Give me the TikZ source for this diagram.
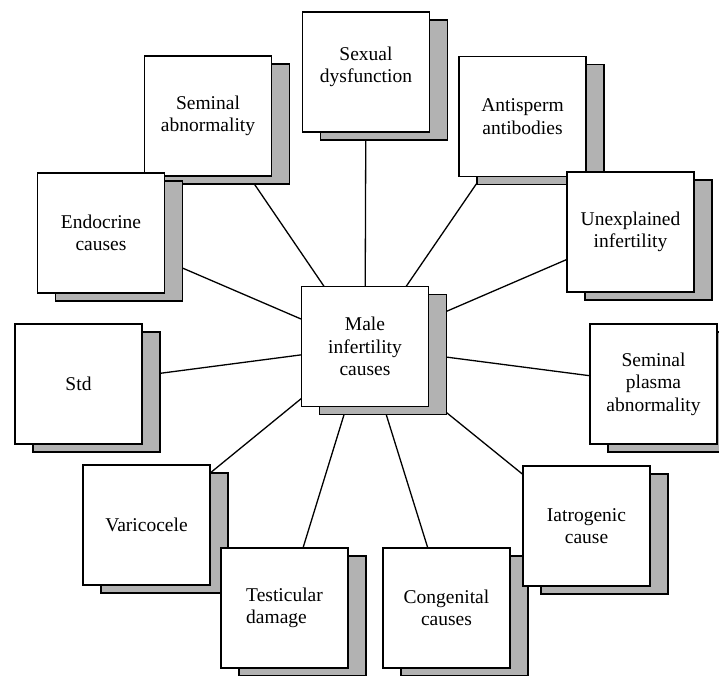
\documentclass[tikz,border=0pt]{standalone}
\usepackage{fontspec}
\setmainfont{Liberation Serif}
\usetikzlibrary{shadows,backgrounds}

\begin{document}
\begin{tikzpicture}[x=1pt, y=-1pt,
    laatikko/.style={draw=black, fill=white, line width=1.6pt,
      minimum width=127pt, minimum height=120pt, inner sep=0pt,
      align=center, font=\fontsize{19.5}{22.5}\selectfont,
      drop shadow={shadow xshift=18pt, shadow yshift=-8pt, opacity=1,
        fill=black!30, draw=black, line width=1.6pt}},
    viiva/.style={line width=1.3pt, draw=black}]

    \useasboundingbox (0,0) rectangle (719,675);

    % Laatikot
    \node [laatikko] (syyt) at (365,346.5) {Male\\infertility\\causes};
    \node [laatikko] (seksi) at (366,72) {Sexual\\dysfunction\\[-8pt]\mbox{}};
    \node [laatikko] (siemen) at (208,116) {Seminal\\abnormality};
    \node [laatikko] (hormoni) at (101,233) {Endocrine\\causes};
    \node [laatikko] (vasta) at (522.5,116.5) {Antisperm\\antibodies};
    \node [laatikko] (tuntematon) at (630.5,232) {Unexplained\\infertility};
    \node [laatikko] (std) at (78.5,384) {Std};
    \node [laatikko] (plasma) at (653.5,384) {Seminal\\plasma\\abnormality};
    \node [laatikko] (kohju) at (146.5,525) {Varicocele};
    \node [laatikko, align=left] (kives) at (284.5,608) {Testicular\\damage};
    \node [laatikko] (synnyn) at (446.5,608) {Congenital\\causes};
    \node [laatikko] (hoito) at (586.5,526) {Iatrogenic\\cause};

    % Viivat keskelta ulos
    \begin{scope}[on background layer]
      \foreach \kohde in {seksi, siemen, hormoni, vasta, tuntematon, std,
          plasma, kohju, kives, synnyn, hoito}
        \draw [viiva] (syyt.center) -- (\kohde.center);
    \end{scope}
  \end{tikzpicture}
\end{document}
